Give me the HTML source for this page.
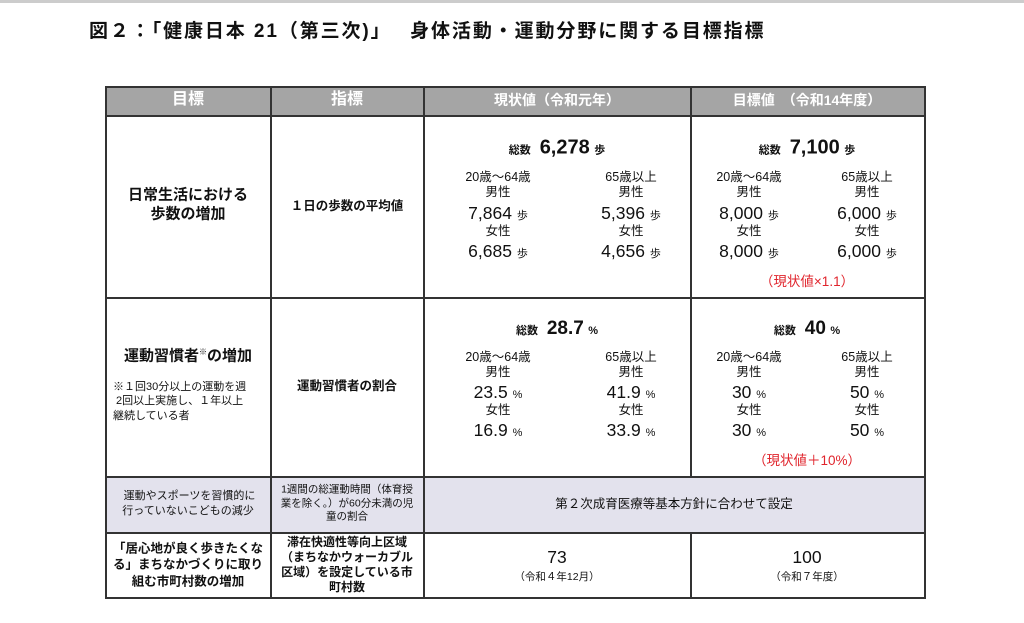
<!DOCTYPE html>
<html><head><meta charset="utf-8"><style>
body{margin:0;width:1024px;height:623px;background:#fff;position:relative;overflow:hidden;font-family:"Liberation Sans","Noto Sans CJK JP",sans-serif;color:#111}
.a{position:absolute;white-space:nowrap;transform:translate(-50%,-50%);text-align:center;line-height:1.15}
.b{font-weight:bold}
.ln{position:absolute;background:#333}
.r{color:#e0242c}
.u{font-size:11px}
.s{font-size:12.5px}
.n{font-size:17.5px}
</style></head><body>
<div style="position:absolute;left:0;top:0;width:1024px;height:3px;background:#ccc"></div>
<div class="b" style="position:absolute;left:89px;top:20px;white-space:nowrap;font-size:19px;letter-spacing:1.9px;line-height:24px">図２：「健康日本 21（第三次)」　 身体活動・運動分野に関する目標指標</div>

<div style="position:absolute;left:105px;top:86px;width:820px;height:29px;background:#a5a5a5"></div>
<div style="position:absolute;left:105px;top:476px;width:820px;height:57px;background:#e3e2ed"></div>

<div class="ln" style="left:105px;top:86px;width:821px;height:1.5px"></div>
<div class="ln" style="left:105px;top:115px;width:821px;height:1.5px"></div>
<div class="ln" style="left:105px;top:297px;width:821px;height:1.5px"></div>
<div class="ln" style="left:105px;top:476px;width:821px;height:1.5px"></div>
<div class="ln" style="left:105px;top:532px;width:821px;height:1.5px"></div>
<div class="ln" style="left:105px;top:597px;width:821px;height:1.5px"></div>
<div class="ln" style="left:105px;top:86px;width:1.5px;height:513px"></div>
<div class="ln" style="left:270px;top:86px;width:1.5px;height:513px"></div>
<div class="ln" style="left:423px;top:86px;width:1.5px;height:513px"></div>
<div class="ln" style="left:690px;top:86px;width:1.5px;height:391px"></div>
<div class="ln" style="left:690px;top:532px;width:1.5px;height:66px"></div>
<div class="ln" style="left:924px;top:86px;width:1.5px;height:513px"></div>

<div class="a b" style="left:188px;top:100px;font-size:16px;color:#fff">目標</div>
<div class="a b" style="left:347px;top:100px;font-size:16px;color:#fff">指標</div>
<div class="a b" style="left:557px;top:100px;font-size:14px;color:#fff">現状値（令和元年）</div>
<div class="a b" style="left:807px;top:100px;font-size:14px;color:#fff">目標値　（令和14年度）</div>

<!-- row1 -->
<div class="a b" style="left:188px;top:205px;font-size:15px;line-height:1.25">日常生活における<br>歩数の増加</div>
<div class="a b" style="left:347px;top:206px;font-size:12.5px">１日の歩数の平均値</div>
<div class="a b" style="left:557px;top:148px"><span style="font-size:11px">総数</span>&nbsp;&nbsp;<span style="font-size:20px">6,278</span> <span style="font-size:11px">歩</span></div>
<div class="a b" style="left:807px;top:148px"><span style="font-size:11px">総数</span>&nbsp;&nbsp;<span style="font-size:20px">7,100</span> <span style="font-size:11px">歩</span></div>

<div class="a s" style="left:498px;top:177px">20歳～64歳</div><div class="a s" style="left:498px;top:192px">男性</div><div class="a n" style="left:498px;top:213px">7,864 <span class="u">歩</span></div><div class="a s" style="left:498px;top:231px">女性</div><div class="a n" style="left:498px;top:251px">6,685 <span class="u">歩</span></div>
<div class="a s" style="left:631px;top:177px">65歳以上</div><div class="a s" style="left:631px;top:192px">男性</div><div class="a n" style="left:631px;top:213px">5,396 <span class="u">歩</span></div><div class="a s" style="left:631px;top:231px">女性</div><div class="a n" style="left:631px;top:251px">4,656 <span class="u">歩</span></div>
<div class="a s" style="left:749px;top:177px">20歳～64歳</div><div class="a s" style="left:749px;top:192px">男性</div><div class="a n" style="left:749px;top:213px">8,000 <span class="u">歩</span></div><div class="a s" style="left:749px;top:231px">女性</div><div class="a n" style="left:749px;top:251px">8,000 <span class="u">歩</span></div>
<div class="a s" style="left:867px;top:177px">65歳以上</div><div class="a s" style="left:867px;top:192px">男性</div><div class="a n" style="left:867px;top:213px">6,000 <span class="u">歩</span></div><div class="a s" style="left:867px;top:231px">女性</div><div class="a n" style="left:867px;top:251px">6,000 <span class="u">歩</span></div>
<div class="a r" style="left:807px;top:282px;font-size:13.5px">（現状値×1.1）</div>

<!-- row2 -->
<div class="a b" style="left:188px;top:356px;font-size:15px">運動習慣者<sup style="font-size:8px;font-weight:normal">※</sup>の増加</div>
<div style="position:absolute;left:113px;top:380px;width:155px;font-size:11px;line-height:1.3">※１回30分以上の運動を週<br>&nbsp;2回以上実施し、１年以上<br>継続している者</div>
<div class="a b" style="left:347px;top:386px;font-size:12.5px">運動習慣者の割合</div>
<div class="a b" style="left:557px;top:329px"><span style="font-size:11px">総数</span>&nbsp;&nbsp;<span style="font-size:19px">28.7</span> <span style="font-size:11px">%</span></div>
<div class="a b" style="left:807px;top:329px"><span style="font-size:11px">総数</span>&nbsp;&nbsp;<span style="font-size:19px">40</span> <span style="font-size:11px">%</span></div>

<div class="a s" style="left:498px;top:357px">20歳～64歳</div><div class="a s" style="left:498px;top:372px">男性</div><div class="a n" style="left:498px;top:392px">23.5 <span class="u">%</span></div><div class="a s" style="left:498px;top:410px">女性</div><div class="a n" style="left:498px;top:430px">16.9 <span class="u">%</span></div>
<div class="a s" style="left:631px;top:357px">65歳以上</div><div class="a s" style="left:631px;top:372px">男性</div><div class="a n" style="left:631px;top:392px">41.9 <span class="u">%</span></div><div class="a s" style="left:631px;top:410px">女性</div><div class="a n" style="left:631px;top:430px">33.9 <span class="u">%</span></div>
<div class="a s" style="left:749px;top:357px">20歳～64歳</div><div class="a s" style="left:749px;top:372px">男性</div><div class="a n" style="left:749px;top:392px">30 <span class="u">%</span></div><div class="a s" style="left:749px;top:410px">女性</div><div class="a n" style="left:749px;top:430px">30 <span class="u">%</span></div>
<div class="a s" style="left:867px;top:357px">65歳以上</div><div class="a s" style="left:867px;top:372px">男性</div><div class="a n" style="left:867px;top:392px">50 <span class="u">%</span></div><div class="a s" style="left:867px;top:410px">女性</div><div class="a n" style="left:867px;top:430px">50 <span class="u">%</span></div>
<div class="a r" style="left:807px;top:461px;font-size:13.5px">（現状値＋10%）</div>

<!-- row3 -->
<div class="a" style="left:188px;top:504px;font-size:11px;line-height:1.35">&nbsp;運動やスポーツを習慣的に<br>行っていないこどもの減少</div>
<div class="a" style="left:347px;top:504px;font-size:10.5px;line-height:1.3">1週間の総運動時間（体育授<br>業を除く。）が60分未満の児<br>童の割合</div>
<div class="a" style="left:674px;top:504px;font-size:12.5px">第２次成育医療等基本方針に合わせて設定</div>

<!-- row4 -->
<div class="a b" style="left:188px;top:565px;font-size:12.5px;line-height:1.3">「居心地が良く歩きたくな<br>る」まちなかづくりに取り<br>組む市町村数の増加</div>
<div class="a b" style="left:347px;top:565px;font-size:12px;line-height:1.25">滞在快適性等向上区域<br>（まちなかウォーカブル<br>区域）を設定している市<br>町村数</div>
<div class="a" style="left:557px;top:557px;font-size:17.5px">73</div>
<div class="a" style="left:557px;top:577px;font-size:10.5px">（令和４年12月）</div>
<div class="a" style="left:807px;top:557px;font-size:17.5px">100</div>
<div class="a" style="left:807px;top:577px;font-size:10.5px">（令和７年度）</div>
</body></html>
